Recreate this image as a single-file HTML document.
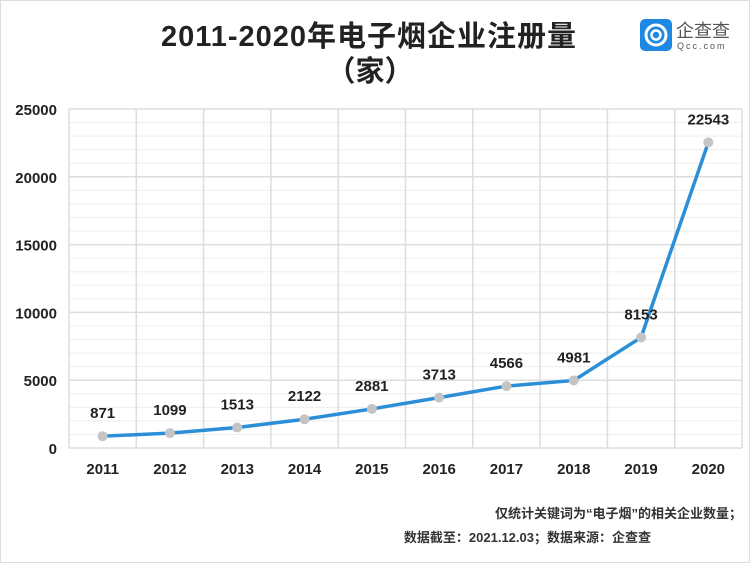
<!DOCTYPE html>
<html><head><meta charset="utf-8"><style>
body{margin:0;background:#fff;}
svg{display:block;font-family:"Liberation Sans","Noto Sans CJK SC",sans-serif;}
</style></head><body>
<svg id="chart" width="750" height="563" viewBox="0 0 750 563">
<rect x="0.5" y="0.5" width="749" height="562" fill="#fff" stroke="#ddd"/>
<text x="369" y="46" text-anchor="middle" font-size="29" font-weight="bold" fill="#222" letter-spacing="1">2011-2020年电子烟企业注册量</text>
<text x="370" y="81" text-anchor="middle" font-size="29" font-weight="bold" fill="#222">（家）</text>
<g>
<rect x="640" y="19" width="32" height="32" rx="5" fill="#1e88e5"/>
<circle cx="656" cy="35" r="10" fill="none" stroke="#fff" stroke-width="3"/>
<circle cx="656" cy="35" r="4.5" fill="none" stroke="#fff" stroke-width="2.5"/>
<text x="676" y="37" font-size="18" fill="#555">企查查</text>
<text x="677" y="49" font-size="9" fill="#555" letter-spacing="2">Qcc.com</text>
</g>
<g id="grid"></g><g id="axes"></g><g id="series"></g>
<text x="742" y="518" text-anchor="end" font-size="13" font-weight="bold" fill="#333">仅统计关键词为“电子烟”的相关企业数量；</text>
<text x="651" y="542" text-anchor="end" font-size="13" font-weight="bold" fill="#333">数据截至：2021.12.03；数据来源：企查查</text>
</svg>
<script>
const categories=["2011","2012","2013","2014","2015","2016","2017","2018","2019","2020"];
const values=[871,1099,1513,2122,2881,3713,4566,4981,8153,22543];
const yTicks=[0,5000,10000,15000,20000,25000];
const NS="http://www.w3.org/2000/svg";
const L=69,R=742,T=109,B=448,yMax=25000;
const cw=(R-L)/categories.length;
const x=i=>L+cw*(i+0.5);
const y=v=>B-(v/yMax)*(B-T);
function mk(tag,a,p){const e=document.createElementNS(NS,tag);for(const k in a)e.setAttribute(k,a[k]);p.appendChild(e);return e;}
const grid=document.getElementById('grid'),axes=document.getElementById('axes'),series=document.getElementById('series');
for(let v=0;v<=yMax;v+=1000){const l=mk('line',{x1:L,x2:R,y1:y(v),y2:y(v),stroke:v%5000==0?'#ddd':'#eee','stroke-width':v%5000==0?1.5:1},grid);

}
for(let i=0;i<=categories.length;i++){const l=mk('line',{x1:L+cw*i,x2:L+cw*i,y1:T,y2:B,stroke:'#ddd','stroke-width':1.5},grid);

}
yTicks.forEach(t=>{const e=mk('text',{x:57,y:y(t)+6,'text-anchor':'end','font-size':15,'font-weight':'bold',fill:'#222'},axes);e.textContent=t;

});
categories.forEach((c,i)=>{const e=mk('text',{x:x(i),y:474,'text-anchor':'middle','font-size':15,'font-weight':'bold',fill:'#222'},axes);e.textContent=c;

});
const p=mk('polyline',{points:values.map((v,i)=>x(i)+','+y(v)).join(' '),fill:'none',stroke:'#2b8fd8','stroke-width':3.5},series);


values.forEach((v,i)=>{const c=mk('circle',{cx:x(i),cy:y(v),r:5,fill:'#c4c4c4'},series);


const t=mk('text',{x:x(i),y:y(v)-18,'text-anchor':'middle','font-size':15,'font-weight':'bold',fill:'#222'},series);t.textContent=v;

});
</script>
</body></html>
